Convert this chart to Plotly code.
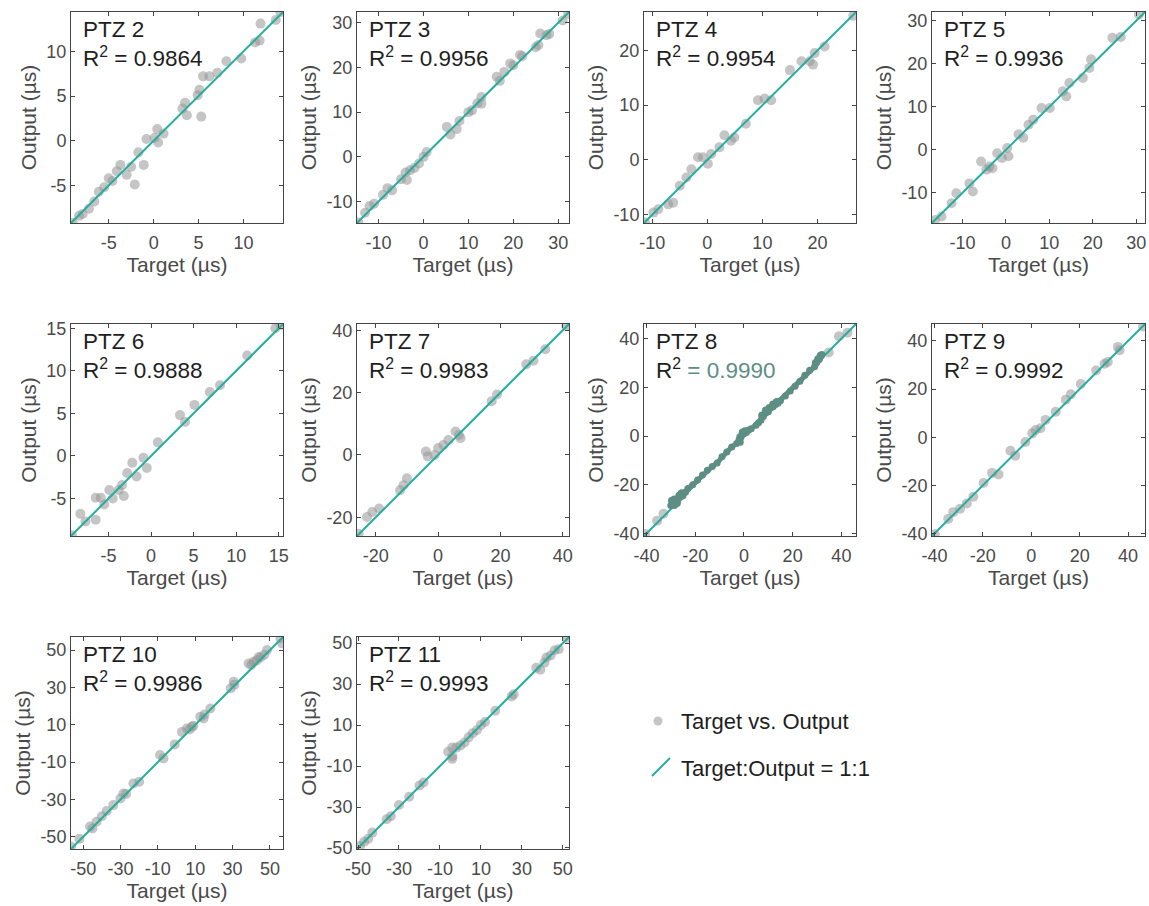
import plotly.graph_objects as go

# ---------------- data ----------------
panel_names = ["PTZ 2", "PTZ 3", "PTZ 4", "PTZ 5", "PTZ 6", "PTZ 7", "PTZ 8", "PTZ 9", "PTZ 10", "PTZ 11"]
r2_values = ["0.9864", "0.9956", "0.9954", "0.9936", "0.9888", "0.9983", "0.9990", "0.9992", "0.9986", "0.9993"]

ptz2_target = [-9.0, -8.3, -7.9, -7.2, -6.6, -6.1, -5.5, -5.0, -4.6, -4.1, -3.7, -3.0, -2.5, -2.1, -1.7, -1.1, -0.8, 0.1, 0.4, 0.5, 1.1, 3.2, 3.5, 3.7, 4.9, 5.1, 5.3, 5.5, 6.2, 7.1, 8.1, 9.75, 11.3, 11.8, 11.9, 13.6, 14.1]
ptz2_output = [-9.2, -8.4, -8.2, -7.6, -6.8, -5.7, -5.2, -4.2, -4.5, -3.4, -2.7, -3.8, -2.9, -4.9, -1.3, -2.7, 0.2, 0.3, 1.3, -0.2, 0.8, 3.6, 4.25, 2.85, 5.1, 5.7, 2.7, 7.2, 7.2, 7.6, 8.9, 9.2, 11.0, 11.2, 13.1, 13.5, 14.4]

ptz3_target = [-14.5, -13, -12, -11, -9, -8, -7, -5, -4, -3.7, -3, -2, -1, 0, 0.7, 5.2, 6, 7.4, 8, 10, 10.8, 12, 12.9, 12.9, 16.3, 17, 18, 19.3, 20, 21.5, 22, 25, 25.6, 26, 27.4, 28, 31, 32.2]
ptz3_output = [-14.7, -12.5, -11, -10.5, -8.5, -7, -7.5, -5, -3.5, -5.2, -3, -2.5, -1.5, 0, 1.1, 6.7, 5, 6.2, 8, 10, 10.4, 12, 11.9, 13.4, 17.9, 17, 19, 20.9, 20.5, 22.8, 22.5, 24.5, 25.0, 27.6, 27.2, 27.5, 30.5, 32]

ptz4_target = [-11.3, -9.8, -8.9, -7.1, -6.2, -5.0, -3.8, -2.9, -1.7, -0.8, 0.7, 0.1, 2.2, 3.1, 4.3, 4.9, 7.0, 9.2, 10.4, 11.6, 15.0, 17.1, 18.6, 19.2, 19.5, 21.3, 26.5]
ptz4_output = [-11.4, -9.6, -9.0, -8.1, -7.8, -4.7, -3.2, -1.7, 0.5, 0.5, 1.1, -0.7, 2.3, 4.5, 3.5, 4.1, 6.6, 10.9, 11.2, 10.9, 16.4, 18.0, 18.0, 17.4, 19.5, 20.7, 26.3]

ptz5_target = [-16.3, -14.8, -12.5, -11.4, -8.4, -7.6, -5.7, -3.8, -3.1, -4.5, -2.0, -0.9, 0.3, 0.6, 2.9, 4.0, 5.2, 6.3, 8.2, 10.1, 13.1, 13.9, 14.6, 17.7, 19.2, 19.6, 24.5, 26.4, 30.6]
ptz5_output = [-16.3, -15.5, -12.4, -10.1, -7.8, -9.7, -2.7, -3.9, -4.3, -4.6, -0.8, -1.9, 0.4, -1.5, 3.6, 2.8, 5.8, 7.0, 9.7, 9.7, 13.6, 12.4, 15.5, 16.7, 19.0, 21.0, 26.0, 26.2, 31.4]

ptz6_target = [-9.3, -8.3, -7.7, -6.5, -6.5, -5.9, -5.5, -4.9, -4.5, -3.8, -3.2, -3.4, -2.8, -2.2, -1.7, -0.9, -0.5, 0.8, 3.4, 4.0, 5.1, 6.9, 8.1, 11.3, 14.6, 15.2]
ptz6_output = [-9.3, -6.8, -7.7, -7.5, -4.9, -4.9, -5.7, -4.0, -5.0, -4.0, -4.7, -3.4, -2.0, -0.8, -2.4, -0.2, -1.4, 1.6, 4.8, 4.0, 6.0, 7.5, 8.3, 11.8, 15.0, 15.4]

ptz7_target = [-25.5, -22.8, -21.1, -18.9, -12.2, -11.1, -10.0, -3.9, -3.3, -1.1, 0.0, 1.7, 3.3, 5.6, 6.7, 7.2, 17.2, 18.9, 28.3, 30.6, 34.4, 41.1]
ptz7_output = [-25.3, -19.9, -18.3, -17.2, -11.3, -9.7, -7.5, 1.1, -0.5, 0.0, 2.2, 3.2, 4.8, 7.5, 6.4, 5.4, 17.2, 19.4, 29.1, 30.2, 33.9, 41.4]

ptz8_target = [-40.6, -35.6, -33.0, 34.8, 39.0, 42.5]
ptz8_output = [-40.2, -34.7, -31.9, 34.3, 41.0, 42.4]
ptz8_band_target = [-30, -29, -28.5, -28, -27, -26, -25, -24, -23, -21, -19, -17, -15, -13, -11, -9, -7, -5, -3, -2, -1.5, -1, 0, 1, 2, 3, 5, 6, 7, 8, 9, 10, 11, 12, 13, 14, 15, 17, 19, 21, 23, 25, 27, 29, 30, 31, 32]
ptz8_band_output = [-28.5, -27, -28.5, -27.5, -26, -25, -24.5, -23, -21.5, -20, -18, -16, -14, -12.5, -11, -8.5, -6.5, -4.5, -3, -1.5, -2.5, 0, 1, 1.5, 2.5, 3, 4.5, 5.5, 6.5, 8, 9.5, 10, 11.5, 12, 13, 13.5, 14.5, 16.5, 18.5, 20.5, 22.5, 25, 27, 28.5, 30.5, 31.5, 33.5]
ptz8_bulge_target = [-29.5, -28.5, -27.5, -26.5, -25.5, -1.5, -0.5, 0.5, 7.5, 9, 10.5, 12, 13.5, 29.5, 30.5, 31.5]
ptz8_bulge_output = [-26.5, -26.0, -27.5, -24.5, -23.5, -0.5, 1.5, 2.0, 8.5, 10.5, 11.5, 13.0, 14.0, 30.0, 31.5, 33.0]

ptz9_target = [-39.9, -34.3, -32.2, -29.4, -26.6, -23.9, -19.7, -16.2, -13.5, -8.6, -6.6, -2.4, 0.4, 1.8, 3.8, 5.9, 10.1, 14.3, 16.4, 20.5, 26.8, 30.3, 31.6, 35.8, 36.5, 46.2]
ptz9_output = [-40.3, -33.9, -31.1, -29.7, -27.5, -24.7, -19.0, -14.8, -15.5, -5.6, -7.7, -2.0, 1.6, 3.0, 3.7, 7.2, 10.6, 15.6, 17.8, 22.1, 27.7, 30.5, 31.2, 37.5, 36.1, 46.0]

ptz10_target = [-56.5, -52, -46.3, -45, -42.8, -40, -37.4, -33.8, -30, -28.4, -27, -23.1, -20, -8.8, -7, -1, 2.9, 5.5, 7, 8.2, 9, 12.7, 14.5, 15, 18.1, 29, 30.6, 31, 38.6, 40, 41.3, 43, 44, 45, 47, 48.5, 55.6, 56.5]
ptz10_output = [-55.2, -51, -44.5, -45.5, -41.9, -39, -36.2, -33, -29.5, -26.8, -27, -21.4, -20.5, -6.2, -8, -0.5, 6.2, 8.0, 7.5, 9.0, 9.5, 14.3, 13.4, 15.5, 18.7, 29.5, 33, 31.5, 42.8, 42, 43.7, 44.5, 46.3, 46, 47.5, 50, 56.3, 53.6]

ptz11_target = [-49, -47, -45, -43, -36, -34, -30, -25, -20, -18, -6, -4, -3.9, -4, -2, 0, 2, 4, 6, 8, 10, 12, 17, 25, 26, 37, 39, 41, 42, 44, 46, 48, 52]
ptz11_output = [-49, -47, -45.5, -42.5, -36, -34.5, -29, -25, -19.5, -18, -3, -1, -5.2, -6.5, -1, 0, 1.5, 4, 6, 7.5, 10, 11.5, 17, 24, 25, 38, 37, 40.5, 43, 44, 46.5, 47, 52.5]

# axis limits (identical for target and output) and tick values per panel
panel_limits = [[-9.2, 14.4], [-14.8, 32.4], [-11.5, 27.0], [-17.0, 32.0], [-9.4, 15.5],
                [-26.0, 42.0], [-41.0, 46.0], [-41.0, 47.0], [-56.5, 57.0], [-50.5, 53.0]]
panel_ticks = [[-5, 0, 5, 10], [-10, 0, 10, 20, 30], [-10, 0, 10, 20], [-10, 0, 10, 20, 30],
               [-5, 0, 5, 10, 15], [-20, 0, 20, 40], [-40, -20, 0, 20, 40], [-40, -20, 0, 20, 40],
               [-50, -30, -10, 10, 30, 50], [-50, -30, -10, 10, 30, 50]]

targets = [ptz2_target, ptz3_target, ptz4_target, ptz5_target, ptz6_target,
           ptz7_target, ptz8_target, ptz9_target, ptz10_target, ptz11_target]
outputs = [ptz2_output, ptz3_output, ptz4_output, ptz5_output, ptz6_output,
           ptz7_output, ptz8_output, ptz9_output, ptz10_output, ptz11_output]

# ---------------- layout geometry ----------------
W, H = 1149, 906
col_px = [(71, 283), (357, 569), (644, 856), (932, 1145)]
row_px = [(12, 223), (324, 536), (637, 849)]

FONT_FAMILY = "Liberation Sans, Arial, sans-serif"
POINT_COLOR = "rgba(150,150,150,0.55)"
LINE_COLOR = "#25ae9e"
BAND_COLOR = "#5d8e84"
AXIS_COLOR = "#444444"
TICK_FONT = dict(family=FONT_FAMILY, size=18, color="#4a4a4a")
TITLE_FONT = dict(family=FONT_FAMILY, size=21, color="#4a4a4a")
TEXT_FONT = dict(family=FONT_FAMILY, size=22.5, color="#1e1e1e")
LEGEND_FONT = dict(family=FONT_FAMILY, size=22, color="#1e1e1e")

fig = go.Figure()
layout = dict(width=W, height=H, margin=dict(l=0, r=0, t=0, b=0, pad=0), autosize=False,
              paper_bgcolor="white", plot_bgcolor="white", showlegend=False)
annotations = []
shapes = []

for i, name in enumerate(panel_names):
    r, c = divmod(i, 4)
    l, rr = col_px[c]
    t, b = row_px[r]
    n = i + 1
    xa = "x" if n == 1 else f"x{n}"
    ya = "y" if n == 1 else f"y{n}"
    lim = panel_limits[i]
    ticks = panel_ticks[i]
    common = dict(range=lim, tickvals=ticks, ticktext=[str(v) for v in ticks],
                  showgrid=False, zeroline=False, showline=True, linecolor=AXIS_COLOR,
                  linewidth=1, mirror="allticks", ticks="inside", ticklen=4,
                  tickcolor=AXIS_COLOR, tickfont=TICK_FONT, fixedrange=True,
                  automargin=False)
    layout["xaxis" if n == 1 else f"xaxis{n}"] = dict(
        common, domain=[l / W, rr / W], anchor=ya, ticklabelstandoff=3,
        title=dict(text="Target (µs)", font=TITLE_FONT, standoff=4))
    layout["yaxis" if n == 1 else f"yaxis{n}"] = dict(
        common, domain=[1 - b / H, 1 - t / H], anchor=xa,
        title=dict(text="Output (µs)", font=TITLE_FONT, standoff=4))

    fig.add_trace(go.Scatter(x=targets[i], y=outputs[i], mode="markers",
                             marker=dict(size=10, color=POINT_COLOR, line=dict(width=0)),
                             xaxis=xa, yaxis=ya, name="Target vs. Output"))
    fig.add_trace(go.Scatter(x=lim, y=lim, mode="lines",
                             line=dict(color=LINE_COLOR, width=2),
                             xaxis=xa, yaxis=ya, name="Target:Output = 1:1"))
    if name == "PTZ 8":
        fig.add_trace(go.Scatter(x=ptz8_band_target, y=ptz8_band_output, mode="lines+markers",
                                 line=dict(color=BAND_COLOR, width=5),
                                 marker=dict(size=7, color=BAND_COLOR, line=dict(width=0)),
                                 xaxis=xa, yaxis=ya, name="PTZ 8 band"))
        fig.add_trace(go.Scatter(x=ptz8_bulge_target, y=ptz8_bulge_output, mode="markers",
                                 marker=dict(size=8, color=BAND_COLOR, line=dict(width=0)),
                                 xaxis=xa, yaxis=ya, name="PTZ 8 band"))
        r2_html = f"R<sup>2</sup> <span style='color:{BAND_COLOR}'>= {r2_values[i]}</span>"
    else:
        r2_html = f"R<sup>2</sup> = {r2_values[i]}"

    annotations.append(dict(
        xref="paper", yref="paper", x=(l + 10) / W, y=1 - (t + 3) / H,
        xanchor="left", yanchor="top", align="left", showarrow=False,
        text=f"{name}<br>{r2_html}", font=TEXT_FONT))

# ---------------- legend (drawn in the empty cell) ----------------
shapes.append(dict(type="circle", xref="paper", yref="paper",
                   x0=(658 - 4.5) / W, x1=(658 + 4.5) / W,
                   y0=1 - (721 + 4.5) / H, y1=1 - (721 - 4.5) / H,
                   fillcolor=POINT_COLOR, line=dict(width=0)))
shapes.append(dict(type="line", xref="paper", yref="paper",
                   x0=652 / W, y0=1 - 776 / H, x1=670 / W, y1=1 - 758 / H,
                   line=dict(color=LINE_COLOR, width=2)))
annotations.append(dict(xref="paper", yref="paper", x=679 / W, y=1 - 721 / H,
                        xanchor="left", yanchor="middle", showarrow=False,
                        text="Target vs. Output", font=LEGEND_FONT))
annotations.append(dict(xref="paper", yref="paper", x=679 / W, y=1 - 768 / H,
                        xanchor="left", yanchor="middle", showarrow=False,
                        text="Target:Output = 1:1", font=LEGEND_FONT))

layout["annotations"] = annotations
layout["shapes"] = shapes
fig.update_layout(**layout)
fig.write_html("out.html", config={"displayModeBar": False, "staticPlot": True},
               post_script="document.body.style.margin='0';document.body.style.overflow='hidden';")
